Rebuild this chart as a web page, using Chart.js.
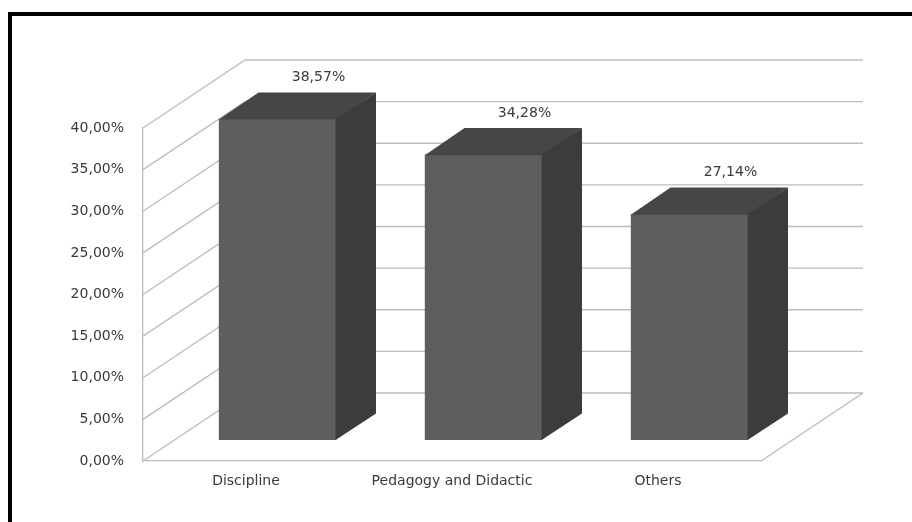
<!DOCTYPE html>
<html>
<head>
<meta charset="utf-8">
<script src="https://cdn.jsdelivr.net/npm/chart.js@4.4.0/dist/chart.umd.min.js"></script>
<style>
  html, body { margin: 0; padding: 0; background: #ffffff; }
  #wrap { position: relative; width: 912px; height: 522px; overflow: hidden; background: #ffffff; }
  #frame {
    position: absolute; left: 8px; top: 12px; width: 920px; height: 530px;
    border-top: 4px solid #000; border-left: 4px solid #000;
    box-sizing: border-box; pointer-events: none;
  }
  canvas { position: absolute; left: 0; top: 0; }
</style>
</head>
<body>
<div id="wrap">
  <canvas id="chart" width="912" height="522"></canvas>
  <div id="frame"></div>
</div>
<script>
// Share of answers per category (percent)
const categories = ['Discipline', 'Pedagogy and Didactic', 'Others'];
const shares = [38.57, 34.28, 27.14];
const yTickValues = [0, 5, 10, 15, 20, 25, 30, 35, 40];

const pct = v => v.toFixed(2).replace('.', ',') + '%';

// Depth of the 3D box (back wall offset) and where the bars sit inside it
const DEPTH = { dx: 102, dy: -68 };
const BAR_FRONT = 0.31;
const BAR_BACK = 0.70;

const box3d = {
  id: 'box3d',
  beforeDatasetsDraw(chart) {
    const { ctx, chartArea: a, scales: { y } } = chart;
    ctx.save();
    ctx.strokeStyle = '#bdbdbd';
    ctx.lineWidth = 1.3;
    // side wall diagonals + back wall gridlines
    y.ticks.forEach(t => {
      const py = y.getPixelForValue(t.value);
      ctx.beginPath();
      ctx.moveTo(a.left, py);
      ctx.lineTo(a.left + DEPTH.dx, py + DEPTH.dy);
      ctx.lineTo(a.right + DEPTH.dx, py + DEPTH.dy);
      ctx.stroke();
    });
    // right edge of the floor
    ctx.beginPath();
    ctx.moveTo(a.right, a.bottom);
    ctx.lineTo(a.right + DEPTH.dx, a.bottom + DEPTH.dy);
    ctx.stroke();
    ctx.restore();

    // bars are drawn slightly inside the box
    ctx.save();
    ctx.translate(Math.round(DEPTH.dx * BAR_FRONT) - 0.5, Math.round(DEPTH.dy * BAR_FRONT));
  },
  afterDatasetsDraw(chart) {
    const ctx = chart.ctx;
    const bdx = DEPTH.dx * (BAR_BACK - BAR_FRONT);
    const bdy = DEPTH.dy * (BAR_BACK - BAR_FRONT);
    const values = chart.data.datasets[0].data;
    chart.getDatasetMeta(0).data.forEach((bar, i) => {
      const { x, y, base, width } = bar.getProps(['x', 'y', 'base', 'width'], true);
      const l = x - width / 2, r = x + width / 2;
      // top face (overlaps the front edge by a hair to avoid a seam)
      ctx.fillStyle = '#464646';
      ctx.beginPath();
      ctx.moveTo(l, y + 0.6);
      ctx.lineTo(r, y + 0.6);
      ctx.lineTo(r + bdx, y + bdy);
      ctx.lineTo(l + bdx, y + bdy);
      ctx.closePath();
      ctx.fill();
      // side face
      ctx.fillStyle = '#3c3c3c';
      ctx.beginPath();
      ctx.moveTo(r - 0.6, y);
      ctx.lineTo(r + bdx, y + bdy);
      ctx.lineTo(r + bdx, base + bdy);
      ctx.lineTo(r - 0.6, base);
      ctx.closePath();
      ctx.fill();
      // value label
      ctx.fillStyle = '#3a3a3a';
      ctx.font = '14px "DejaVu Sans"';
      ctx.textAlign = 'center';
      ctx.textBaseline = 'middle';
      ctx.fillText(pct(values[i]), x + 41, y + bdy - 15);
    });
    ctx.restore();
  }
};

Chart.defaults.font.family = '"DejaVu Sans", sans-serif';
Chart.defaults.font.size = 14;
Chart.defaults.color = '#3a3a3a';

new Chart(document.getElementById('chart'), {
  type: 'bar',
  data: {
    labels: categories,
    datasets: [{
      data: shares,
      backgroundColor: '#5e5e5e',
      borderWidth: 0,
      barPercentage: 0.57,
      categoryPercentage: 1,
      clip: false
    }]
  },
  options: {
    responsive: false,
    animation: false,
    layout: { padding: { left: 43, right: 151, top: 128, bottom: 21 } },
    plugins: { legend: { display: false }, tooltip: { enabled: false } },
    scales: {
      x: {
        offset: true,
        grid: { display: false, drawTicks: false },
        border: { display: true, color: '#bdbdbd', width: 1.3 },
        ticks: { padding: 12, font: { size: 14 } },
        afterFit(scale) { scale.height = 40; }
      },
      y: {
        min: 0,
        max: 40,
        grid: { display: false, drawTicks: false },
        border: { display: true, color: '#bdbdbd', width: 1.3 },
        afterBuildTicks(scale) { scale.ticks = yTickValues.map(v => ({ value: v })); },
        ticks: { padding: 19, font: { size: 14 }, callback: v => pct(v) },
        afterFit(scale) { scale.width = 100; }
      }
    }
  },
  plugins: [box3d]
});
</script>
</body>
</html>
